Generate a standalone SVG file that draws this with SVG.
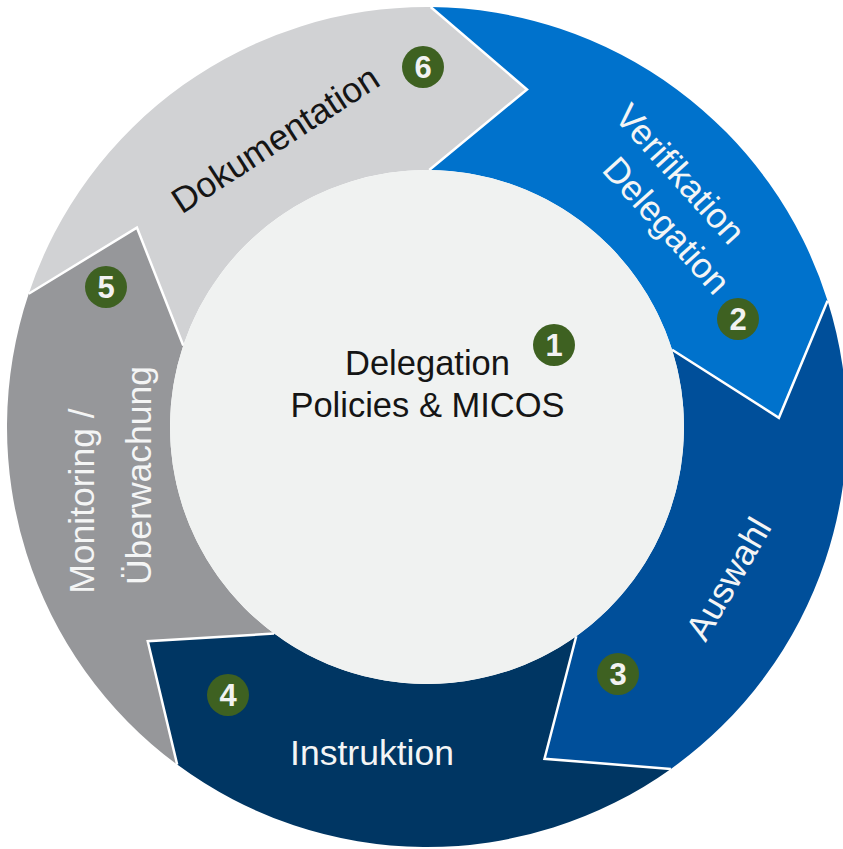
<svg xmlns="http://www.w3.org/2000/svg" width="843" height="849" viewBox="0 0 843 849">
<style>
.lbl{font-family:"Liberation Sans",Arial,sans-serif;font-size:35.5px;text-anchor:middle}
.w{fill:#f4f5f5}
.k{fill:#151515}
.ctr{font-family:"Liberation Sans",Arial,sans-serif;font-size:34.5px;text-anchor:middle;fill:#151515}
.badge circle{fill:#3e6121}
.badge text{font-family:"Liberation Sans",Arial,sans-serif;font-size:31px;font-weight:bold;text-anchor:middle;fill:#f2f2f2}
.sep{fill:none;stroke:#ffffff;stroke-width:2.5;stroke-linejoin:miter}
</style>
<rect width="843" height="849" fill="#ffffff"/>
<g id="seg6">
<path d="M28.71,293.73 A420,420 0 0 1 430.67,7.02 L526.98,89.50 L429.24,170.01 A257,257 0 0 0 183.28,345.45 L136.91,227.62 Z" fill="#d1d2d4"/>
</g>
<g id="seg2">
<path d="M430.67,7.02 A420,420 0 0 1 827.56,300.70 L778.88,417.79 L672.11,349.72 A257,257 0 0 0 429.24,170.01 L526.98,89.50 Z" fill="#0072cc"/>
</g>
<g id="seg3">
<path d="M827.56,300.70 A420,420 0 0 1 670.89,768.93 L544.50,758.81 L576.24,636.23 A257,257 0 0 0 672.11,349.72 L778.88,417.79 Z" fill="#004f9a"/>
</g>
<g id="seg4">
<path d="M670.89,768.93 A420,420 0 0 1 177.18,764.62 L147.74,641.28 L274.13,633.59 A257,257 0 0 0 576.24,636.23 L544.50,758.81 Z" fill="#003663"/>
</g>
<g id="seg5">
<path d="M177.18,764.62 A420,420 0 0 1 28.71,293.73 L136.91,227.62 L183.28,345.45 A257,257 0 0 0 274.13,633.59 L147.74,641.28 Z" fill="#96979a"/>
</g>
<g id="connectors">
<polyline class="sep" points="430.67,7.02 526.98,89.50 429.24,170.01"/>
<polyline class="sep" points="827.56,300.70 778.88,417.79 672.11,349.72"/>
<polyline class="sep" points="670.89,768.93 544.50,758.81 576.24,636.23"/>
<polyline class="sep" points="177.18,764.62 147.74,641.28 274.13,633.59"/>
<polyline class="sep" points="28.71,293.73 136.91,227.62 183.28,345.45"/>
</g>
<g id="center">
<circle cx="427" cy="427" r="257" fill="#f0f2f1"/>
<text class="ctr" x="427.5" y="375">Delegation</text>
<text class="ctr" x="427.5" y="417">Policies &amp; MICOS</text>
</g>
<g id="labels">
<text class="lbl k" x="282" y="149.5" transform="rotate(-33 282 149.5)">Dokumentation</text>
<text class="lbl w" x="671" y="182" transform="rotate(48 671 182)">Verifikation</text>
<text class="lbl w" x="657.5" y="233.5" transform="rotate(48 657.5 233.5)">Delegation</text>
<text class="lbl w" x="739" y="585" transform="rotate(-60 739 585)">Auswahl</text>
<text class="lbl w" x="372" y="765">Instruktion</text>
<text class="lbl w" x="93.5" y="501" transform="rotate(-90 93.5 501)">Monitoring /</text>
<text class="lbl w" x="150.5" y="475.5" transform="rotate(-90 150.5 475.5)">Überwachung</text>
</g>
<g id="badge1" class="badge"><circle cx="554" cy="345" r="21"/><text x="554" y="356">1</text></g>
<g id="badge2" class="badge"><circle cx="738" cy="319" r="21"/><text x="738" y="330">2</text></g>
<g id="badge3" class="badge"><circle cx="618" cy="674" r="21"/><text x="618" y="685">3</text></g>
<g id="badge4" class="badge"><circle cx="228" cy="695" r="21"/><text x="228" y="706">4</text></g>
<g id="badge5" class="badge"><circle cx="106" cy="287" r="21"/><text x="106" y="298">5</text></g>
<g id="badge6" class="badge"><circle cx="423" cy="67" r="21"/><text x="423" y="78">6</text></g>
</svg>
